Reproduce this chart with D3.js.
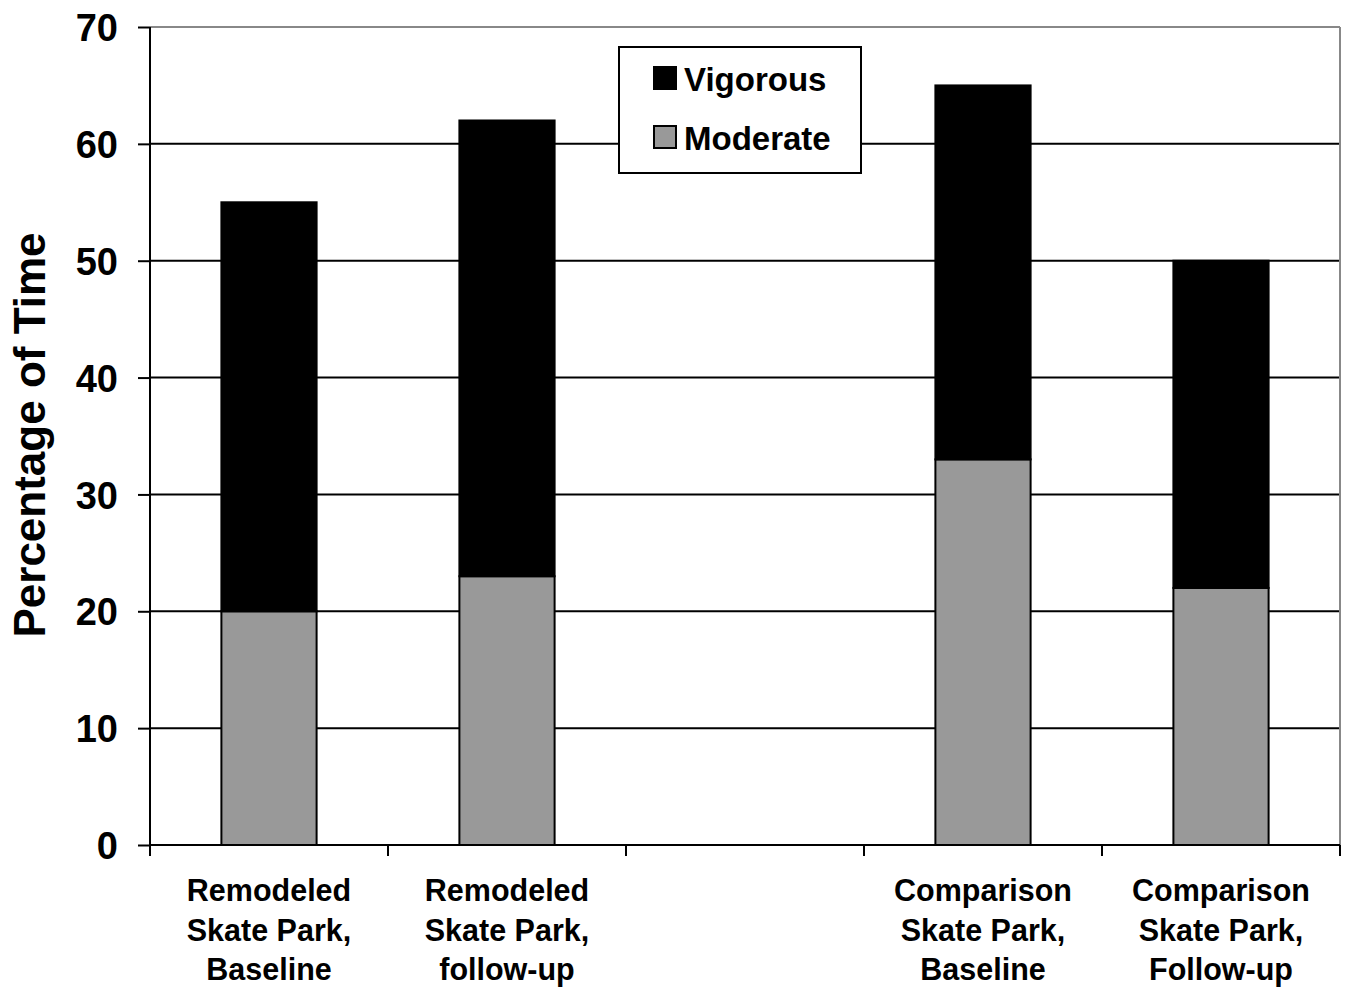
<!DOCTYPE html>
<html><head><meta charset="utf-8">
<script src="https://cdn.jsdelivr.net/npm/d3@7"></script>
<style>body{margin:0;background:#fff}svg{display:block}text{font-family:"Liberation Sans",Arial,sans-serif;font-weight:bold;fill:#000}</style>
</head><body><svg id="c" width="1347" height="988"></svg>
<script>
const categories = [
  ["Remodeled","Skate Park,","Baseline"],
  ["Remodeled","Skate Park,","follow-up"],
  ["","",""],
  ["Comparison","Skate Park,","Baseline"],
  ["Comparison","Skate Park,","Follow-up"]
];
const moderate = [20, 23, null, 33, 22];
const vigorous = [35, 39, null, 32, 28];
const yTicks = [0,10,20,30,40,50,60,70];
const seriesNames = ["Vigorous","Moderate"];
const colors = {Vigorous:"#000000", Moderate:"#999999"};

const svg = d3.select("#c");
const L=150, R=1340, T=27, B=845;
const x = d3.scaleBand().domain(d3.range(categories.length)).range([L,R]).padding(0);
const y = d3.scaleLinear().domain([0,70]).range([B,T]);
const barW = x.bandwidth()*0.4;

// gridlines
svg.append("g").selectAll("line").data(yTicks.filter(d=>d>0&&d<70)).join("line")
  .attr("x1",L).attr("x2",R).attr("y1",d=>y(d)).attr("y2",d=>y(d))
  .attr("stroke","#000").attr("stroke-width",2);
// top and right border gray
svg.append("line").attr("x1",L).attr("x2",R).attr("y1",y(70)).attr("y2",y(70)).attr("stroke","#888").attr("stroke-width",2);
svg.append("line").attr("x1",R).attr("x2",R).attr("y1",T).attr("y2",B).attr("stroke","#888").attr("stroke-width",2);

// bars
const data = categories.map((c,i)=>({i, m:moderate[i], v:vigorous[i]})).filter(d=>d.m!=null);
const g = svg.append("g");
data.forEach(d=>{
  const cx = x(d.i)+x.bandwidth()/2;
  g.append("rect").attr("x",cx-barW/2).attr("width",barW)
    .attr("y",y(d.m)).attr("height",y(0)-y(d.m))
    .attr("fill",colors.Moderate).attr("stroke","#000").attr("stroke-width",2);
  g.append("rect").attr("x",cx-barW/2).attr("width",barW)
    .attr("y",y(d.m+d.v)).attr("height",y(d.m)-y(d.m+d.v))
    .attr("fill",colors.Vigorous).attr("stroke","#000").attr("stroke-width",2);
});

// y axis
const ya = svg.append("g").attr("transform",`translate(${L},0)`)
  .call(d3.axisLeft(y).tickValues(yTicks).tickSize(12).tickPadding(20));
ya.select(".domain").attr("stroke","#000").attr("stroke-width",2).attr("d",`M-0,${B}V${T}`);
ya.selectAll(".tick line").attr("stroke","#000").attr("stroke-width",2);
ya.selectAll(".tick text").style("font-size","38px").style("font-weight","bold").attr("fill","#000").attr("dy","0.36em");

// x axis
const xTickPos = d3.range(categories.length+1).map(i=> i<categories.length ? x(i) : R);
svg.append("line").attr("x1",L).attr("x2",R).attr("y1",B).attr("y2",B).attr("stroke","#000").attr("stroke-width",2);
svg.append("g").selectAll("line").data(xTickPos).join("line")
  .attr("x1",d=>d).attr("x2",d=>d).attr("y1",B).attr("y2",B+11)
  .attr("stroke","#000").attr("stroke-width",2);
const xl = svg.append("g");
categories.forEach((c,i)=>{
  const t = xl.append("text").attr("x",x(i)+x.bandwidth()/2).attr("y",901)
    .attr("text-anchor","middle").style("font-size","30.5px");
  c.forEach((line,k)=>{
    t.append("tspan").attr("x",x(i)+x.bandwidth()/2).attr("dy",k===0?0:39.5).text(line);
  });
});

// y title
svg.append("text").attr("transform","translate(45,435) rotate(-90)")
  .attr("text-anchor","middle").style("font-size","44px").text("Percentage of Time");

// legend
const lg = svg.append("g");
lg.append("rect").attr("x",619).attr("y",47).attr("width",242).attr("height",126)
  .attr("fill","#fff").attr("stroke","#000").attr("stroke-width",2);
seriesNames.forEach((s,k)=>{
  const yy = 67 + k*59;
  lg.append("rect").attr("x",654).attr("y",yy).attr("width",22).attr("height",22)
    .attr("fill",colors[s]).attr("stroke","#000").attr("stroke-width",2);
  lg.append("text").attr("x",684).attr("y",yy+24).style("font-size","33px").text(s);
});
</script></body></html>
